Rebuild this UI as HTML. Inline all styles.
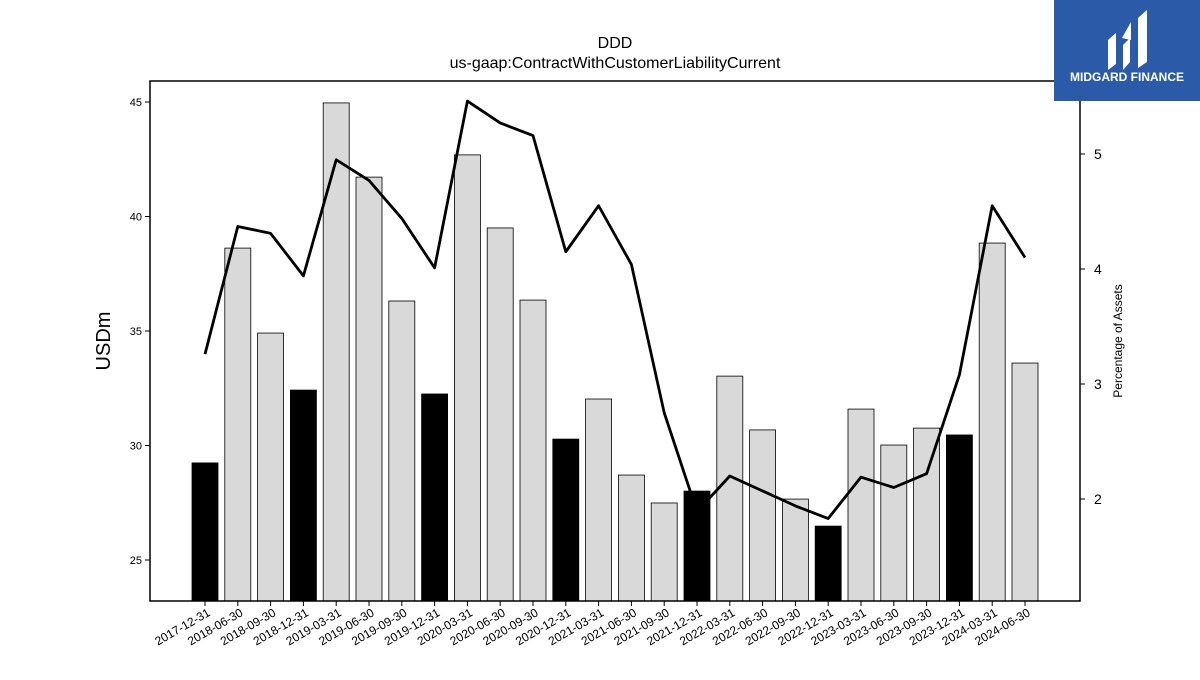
<!DOCTYPE html>
<html><head><meta charset="utf-8"><style>
body{margin:0;background:#fff;width:1200px;height:675px;overflow:hidden;font-family:"Liberation Sans",sans-serif}
</style></head><body>
<svg id="chart" width="1200" height="675" xmlns="http://www.w3.org/2000/svg" font-family="Liberation Sans, sans-serif">
<text x="615" y="48" font-size="16" text-anchor="middle">DDD</text>
<text x="615" y="68" font-size="16" text-anchor="middle">us-gaap:ContractWithCustomerLiabilityCurrent</text>
<g id="bars"></g><g id="line"></g><g id="axes"></g>
<rect x="150" y="81" width="930" height="520" fill="none" stroke="#000" stroke-width="1.5"/>
<text transform="translate(110,341) rotate(-90)" font-size="20" text-anchor="middle">USDm</text>
<text transform="translate(1122,341) rotate(-90)" font-size="12" text-anchor="middle">Percentage of Assets</text>
<g>
<rect x="1054" y="0" width="146" height="101" fill="#2a5aa8"/>
<path d="M1108 70 V40 L1116 33 V64 Z M1123 70 V45 L1130 38 V62 Z M1138 68 V18 L1147 10 V62 Z M1122 38 L1131 22 V40 Z" fill="#fff"/>
<text x="1127" y="81" font-size="12" font-weight="bold" fill="#fff" text-anchor="middle">MIDGARD FINANCE</text>
</g>
</svg>
<script>
const categories=["2017-12-31","2018-06-30","2018-09-30","2018-12-31","2019-03-31","2019-06-30","2019-09-30","2019-12-31","2020-03-31","2020-06-30","2020-09-30","2020-12-31","2021-03-31","2021-06-30","2021-09-30","2021-12-31","2022-03-31","2022-06-30","2022-09-30","2022-12-31","2023-03-31","2023-06-30","2023-09-30","2023-12-31","2024-03-31","2024-06-30"];
const barValues=[29.24,38.62,34.91,32.42,44.96,41.72,36.31,32.25,42.69,39.50,36.35,30.28,32.03,28.71,27.49,28.01,33.03,30.68,27.66,26.48,31.59,30.02,30.76,30.46,38.84,33.60];
const pctValues=[3.26,4.37,4.31,3.94,4.95,4.77,4.44,4.01,5.46,5.27,5.16,4.15,4.55,4.04,2.75,1.89,2.20,2.07,1.94,1.83,2.19,2.10,2.22,3.08,4.55,4.10];
const leftTicks=[25,30,35,40,45];
const rightTicks=[2,3,4,5];
const NS="http://www.w3.org/2000/svg";
const yL=v=>560-(v-25)*22.9;
const yR=v=>499-(v-2)*115;
const xC=i=>205+i*32.8;
const bottom=601;
function mk(t,a,p){const e=document.createElementNS(NS,t);for(const k in a)e.setAttribute(k,a[k]);p.appendChild(e);return e;}
const bars=document.getElementById('bars'),line=document.getElementById('line'),axes=document.getElementById('axes');
barValues.forEach((v,i)=>{
 const r=mk('rect',{x:xC(i)-13,y:yL(v),width:26,height:bottom-yL(v),fill:categories[i].endsWith('12-31')?'#000':'#d9d9d9',stroke:'#000','stroke-width':0.8},bars);
 
 
});
const pl=mk('polyline',{points:pctValues.map((v,i)=>xC(i)+','+yR(v)).join(' '),fill:'none',stroke:'#000','stroke-width':2.8,'stroke-linejoin':'round'},line);


leftTicks.forEach(t=>{
 const g=mk('g',{},axes);
 
 
 mk('line',{x1:145,x2:150,y1:yL(t),y2:yL(t),stroke:'#000'},g);
 const tx=mk('text',{x:142,y:yL(t)+4,'font-size':11,'text-anchor':'end'},g);tx.textContent=t;
});
rightTicks.forEach(t=>{
 const g=mk('g',{},axes);
 
 
 mk('line',{x1:1080,x2:1085,y1:yR(t),y2:yR(t),stroke:'#000'},g);
 const tx=mk('text',{x:1094,y:yR(t)+5,'font-size':14},g);tx.textContent=t;
});
categories.forEach((c,i)=>{
 const g=mk('g',{},axes);
 
 
 mk('line',{x1:xC(i),x2:xC(i),y1:601,y2:606,stroke:'#000'},g);
 const tx=mk('text',{transform:`translate(${xC(i)+6},${615}) rotate(-30)`,'font-size':12,'text-anchor':'end'},g);tx.textContent=c;
});
</script>
</body></html>
